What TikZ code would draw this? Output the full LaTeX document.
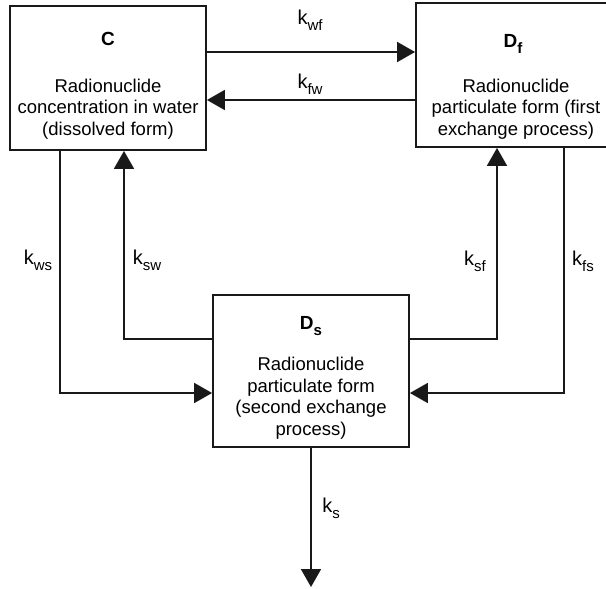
\documentclass[tikz,border=0pt]{standalone}
\usepackage{fontspec}
\setmainfont{Liberation Sans}
\usepackage{tikz}
\usetikzlibrary{arrows.meta, positioning, calc}

\newcommand{\rate}[1]{{\fontsize{20}{20}\selectfont k}\raisebox{-0.32em}{\fontsize{15}{15}\selectfont #1}}

\begin{document}
\begin{tikzpicture}[
  x=1pt, y=-1pt,
  >={Triangle[length=18pt,width=20pt]},
  font=\fontsize{18.5}{21.7}\selectfont,
  box/.style={
    rectangle, draw=black!90, line width=1.8pt,
    minimum width=196pt, inner sep=0pt
  },
  title/.style={font=\fontsize{19}{21.7}\selectfont\bfseries, inner sep=0pt},
  body/.style={align=center, inner sep=0pt},
  flow/.style={->, line width=1.8pt, draw=black!90},
  lbl/.style={inner sep=0pt},
]
\useasboundingbox (0,0) rectangle (606,589);

% --- Compartments ---
\node[box, minimum height=144pt] (C) at (108,78) {};
\node[box, minimum height=144pt] (Df) at (514,75) {};
\node[box, minimum height=152pt] (Ds) at (311,371) {};

% --- Texts ---
\node[title] (Ct) at ($(C.north)+(0,34)$) {C};
\node[body] (Cb) at ($(C.north)+(0,104)$) {Radionuclide\\ concentration in water\\ (dissolved form)};

\node[title] (Dft) at ($(Df.north)+(-1,42)$) {D\raisebox{-0.3em}{\fontsize{15}{15}\selectfont f}};
\node[body] (Dfb) at ($(Df.north)+(2,107)$) {Radionuclide\\ particulate form (first\\ exchange process)};

\node[title] (Dst) at ($(Ds.north)+(0,32)$) {D\raisebox{-0.3em}{\fontsize{15}{15}\selectfont s}};
\node[body] (Dsb) at ($(Ds.north)+(0,104)$) {Radionuclide\\ particulate form\\ (second exchange\\ process)};

% --- Sink ---
\coordinate (sink) at (311,587);

% --- Exchanges ---
\draw[flow] ([yshift=26pt]C.east) -- ([yshift=26pt]C.east -| Df.west);
\draw[flow] ([yshift=-25pt]Df.west) -- ([yshift=-25pt]Df.west -| C.east);

\draw[flow] ([xshift=-48pt]C.south) |- ([yshift=-22pt]Ds.west);
\draw[flow] ([yshift=32pt]Ds.west) -| ([xshift=16pt]C.south);

\draw[flow] ([yshift=32pt]Ds.east) -| ([xshift=-17pt]Df.south);
\draw[flow] ([xshift=50pt]Df.south) |- ([yshift=-22pt]Ds.east);

\draw[flow] (Ds.south) -- (sink);

% --- Rate labels ---
\node[lbl] (kwf) at (310,20) {\rate{wf}};
\node[lbl] (kfw) at (310,84) {\rate{fw}};
\node[lbl] (kws) at (38,260) {\rate{ws}};
\node[lbl] (ksw) at (147,260) {\rate{sw}};
\node[lbl] (ksf) at (475,261) {\rate{sf}};
\node[lbl] (kfs) at (583,261) {\rate{fs}};
\node[lbl] (ks) at (331,508) {\rate{s}};

\end{tikzpicture}
\end{document}
